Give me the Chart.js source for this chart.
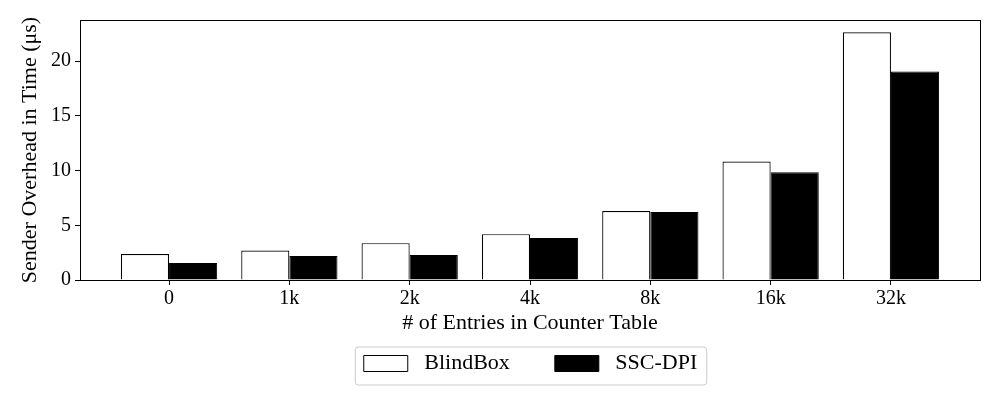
<!DOCTYPE html>
<html>
<head>
<meta charset="utf-8">
<script src="https://cdn.jsdelivr.net/npm/chart.js@4/dist/chart.umd.min.js"></script>
<style>
  html, body { margin: 0; padding: 0; background: #fff; }
  #wrap { width: 1000px; height: 400px; }
</style>
</head>
<body>
<div id="wrap"><canvas id="my-chart" width="1000" height="400"></canvas></div>
<script>
// data
const categories = ['0', '1k', '2k', '4k', '8k', '16k', '32k'];
const blindbox = [2.37, 2.70, 3.37, 4.19, 6.31, 10.84, 22.64];
const sscdpi = [1.55, 2.19, 2.28, 3.83, 6.22, 9.86, 19.06];
const yTicks = [0, 5, 10, 15, 20];

const serif = "'Liberation Serif', 'Times New Roman', serif";

// box around the plot + legend frame
const framePlugin = {
    id: 'frame',
    afterLayout(chart) {
        // put the legend where the reference has it
        const lg = chart.legend;
        lg.left = 81;
        lg.right = 980;
        lg.top = 307.5;
        lg.bottom = 400;
        lg.width = lg.right - lg.left;
        lg.height = lg.bottom - lg.top;
    },
    afterDraw(chart) {
        const ctx = chart.ctx;
        const a = chart.chartArea;
        ctx.save();
        ctx.strokeStyle = '#000';
        ctx.lineWidth = 1;
        ctx.strokeRect(Math.round(a.left) + 0.5, Math.round(a.top) + 0.5,
            Math.round(a.right - a.left), Math.round(a.bottom - a.top));

        const hb = chart.legend.legendHitBoxes;
        if (hb && hb.length) {
            const last = hb[hb.length - 1];
            const x0 = hb[0].left - 9;
            const x1 = last.left + last.width + 9;
            const y0 = hb[0].top - 6;
            const y1 = hb[0].top + hb[0].height + 10;
            ctx.strokeStyle = '#cccccc';
            ctx.beginPath();
            ctx.roundRect(x0 + 0.5, y0 + 0.5, x1 - x0, y1 - y0, 3);
            ctx.stroke();
        }
        ctx.restore();
    }
};

const cart = new Chart(document.getElementById('my-chart'), {
    type: 'bar',
    data: {
        datasets: [
            {label: 'BlindBox', data: blindbox.map((v, i) => ({x: i, y: v})),
             backgroundColor: '#ffffff', borderColor: '#000000', borderWidth: 1.2},
            {label: 'SSC-DPI', data: sscdpi.map((v, i) => ({x: i, y: v})),
             backgroundColor: '#000000', borderColor: '#000000', borderWidth: 1},
        ]
    },
    options: {
        responsive: false,
        animation: false,
        layout: {padding: {top: 20, right: 20, left: 0, bottom: 0}},
        datasets: {bar: {categoryPercentage: 0.8, barPercentage: 1.0}},
        scales: {
            x: {
                type: 'linear',
                min: -0.74,
                max: 6.74,
                offset: false,
                afterBuildTicks: (s) => { s.ticks = categories.map((c, i) => ({value: i})); },
                afterFit: (s) => { s.height = 60; },
                ticks: {
                    color: '#000',
                    font: {family: serif, size: 20},
                    padding: 2,
                    maxRotation: 0,
                    callback: (v) => categories[v],
                },
                grid: {display: true, offset: false, drawOnChartArea: false, drawTicks: true, tickLength: 5, color: '#000'},
                border: {display: true, color: '#000', width: 1},
                title: {
                    display: true,
                    text: '# of Entries in Counter Table',
                    color: '#000',
                    font: {family: serif, size: 22},
                    padding: {top: 0, bottom: 4},
                },
            },
            y: {
                min: 0,
                max: 23.77,
                afterBuildTicks: (s) => { s.ticks = yTicks.map(v => ({value: v})); },
                afterFit: (s) => { s.width = 80; },
                ticks: {
                    color: '#000',
                    font: {family: serif, size: 20},
                    padding: 4,
                },
                grid: {display: true, drawOnChartArea: false, drawTicks: true, tickLength: 5, color: '#000'},
                border: {display: true, color: '#000', width: 1},
                title: {
                    display: true,
                    text: 'Sender Overhead in Time (μs)',
                    color: '#000',
                    font: {family: serif, size: 22},
                    padding: {top: 17, bottom: 0},
                },
            },
        },
        plugins: {
            tooltip: {enabled: false},
            legend: {
                position: 'bottom',
                maxHeight: 60,
                labels: {
                    color: '#000',
                    font: {family: serif, size: 22},
                    boxWidth: 44,
                    boxHeight: 16,
                    padding: 45,
                    generateLabels: (chart) => Chart.defaults.plugins.legend.labels.generateLabels(chart)
                        .map(l => Object.assign(l, {text: ' ' + l.text, lineWidth: 1})),
                },
            },
        },
    },
    plugins: [framePlugin],
});
</script>
</body>
</html>
